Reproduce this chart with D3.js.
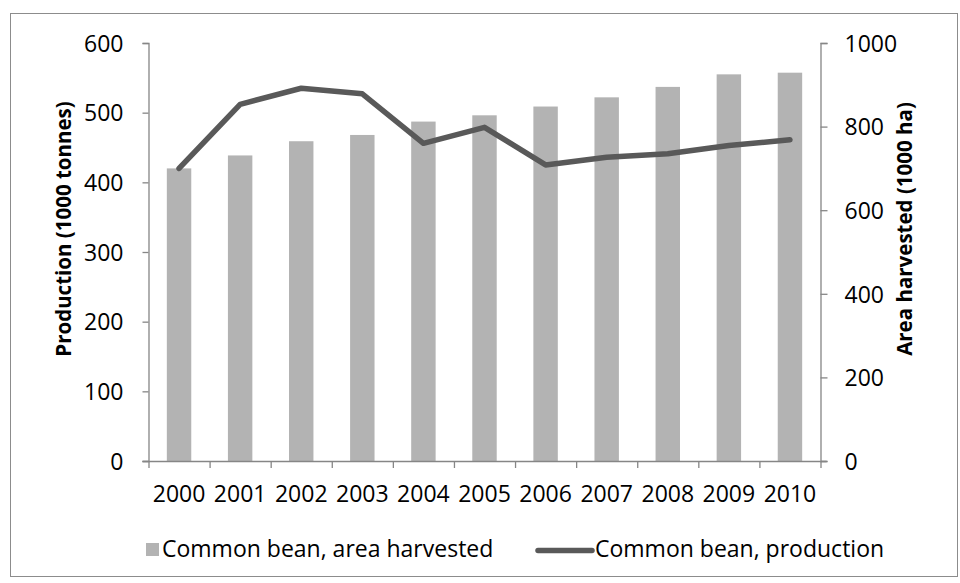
<!DOCTYPE html>
<html><head><meta charset="utf-8">
<script src="https://cdn.jsdelivr.net/npm/d3@7"></script>
<style>
html,body{margin:0;padding:0;background:#fff;}
text{font-family:"Open Sans",sans-serif;fill:#000;}
</style></head>
<body>
<svg id="chart" width="960" height="583"></svg>
<script>
const years = ["2000","2001","2002","2003","2004","2005","2006","2007","2008","2009","2010"];
const areaHarvested = [700, 731, 765, 780, 812, 827, 848, 870, 895, 925, 929];
const production = [420, 512, 535, 527, 456, 479, 425, 436, 441, 453, 461];
const leftTicks = [0, 100, 200, 300, 400, 500, 600];
const rightTicks = [0, 200, 400, 600, 800, 1000];
const seriesNames = ["Common bean, area harvested", "Common bean, production"];
const axisTitles = ["Production (1000 tonnes)", "Area harvested (1000 ha)"];

const svg = d3.select("#chart");
const L = 148.5, R = 820.5, T = 43, B = 461;
const axisColor = "#868686", barColor = "#b3b3b3", lineColor = "#595959";
const fs = 23, tfs = 20.5;

svg.append("rect").attr("x",10.5).attr("y",13.5).attr("width",947).attr("height",563)
  .attr("fill","none").attr("stroke","#8c8c8c").attr("stroke-width",1);

const x = d3.scaleBand().domain(years).range([L, R]).paddingInner(0.6).paddingOuter(0.3);
const xEdges = d3.scaleLinear().domain([0, years.length]).range([L, R]);
const yL = d3.scaleLinear().domain([0, 600]).range([B, T]);
const yR = d3.scaleLinear().domain([0, 1000]).range([B, T]);

// bars
svg.append("g").selectAll("rect").data(years).join("rect")
  .attr("x", d => x(d)).attr("width", x.bandwidth())
  .attr("y", (d,i) => yR(areaHarvested[i])).attr("height", (d,i) => B - yR(areaHarvested[i]))
  .attr("fill", barColor);

// line
const line = d3.line().x((d,i) => x(years[i]) + x.bandwidth()/2).y(d => yL(d));
svg.append("path").datum(production).attr("d", line)
  .attr("fill","none").attr("stroke", lineColor).attr("stroke-width", 5.5)
  .attr("stroke-linejoin","round").attr("stroke-linecap","round");

function styleAxis(g){
  g.selectAll(".domain").attr("stroke", axisColor).attr("stroke-width",1.3);
  g.selectAll(".tick line").attr("stroke", axisColor).attr("stroke-width",1.3);
  g.selectAll(".tick text").attr("font-family","Open Sans").attr("font-size", fs).attr("fill","#000");
}

// left axis
const gl = svg.append("g").attr("transform",`translate(${L},0)`)
  .call(d3.axisLeft(yL).tickValues(leftTicks).tickFormat(d3.format("d")).tickSize(6).tickSizeOuter(6).tickPadding(19));
styleAxis(gl);
gl.selectAll(".tick text").attr("dy","0.36em");

// right axis
const gr = svg.append("g").attr("transform",`translate(${R},0)`)
  .call(d3.axisRight(yR).tickValues(rightTicks).tickFormat(d3.format("d")).tickSize(7).tickSizeOuter(7).tickPadding(17));
styleAxis(gr);
gr.selectAll(".tick text").attr("dy","0.36em");

// x axis ticks at edges
const gx = svg.append("g").attr("transform",`translate(0,${B})`)
  .call(d3.axisBottom(xEdges).tickValues(d3.range(years.length+1)).tickSize(7).tickSizeOuter(0).tickFormat(""));
styleAxis(gx);
gx.select(".domain").attr("d", `M${L-6},0.5H${R+6}`);

// x labels
const gxl = svg.append("g").attr("transform",`translate(0,${B})`)
  .call(d3.axisBottom(x).tickSize(0).tickPadding(25));
gxl.select(".domain").remove();
styleAxis(gxl);
gxl.selectAll(".tick text").attr("dy","0.71em");

// axis titles
svg.append("text").attr("transform",`translate(71,229) rotate(-90)`)
  .attr("text-anchor","middle").attr("font-weight","bold").attr("font-size",tfs)
  .text(axisTitles[0]);
svg.append("text").attr("transform",`translate(912,229) rotate(-90)`)
  .attr("text-anchor","middle").attr("font-weight","bold").attr("font-size",tfs)
  .text(axisTitles[1]);

// legend
const lg = svg.append("g");
lg.append("rect").attr("x",146).attr("y",543).attr("width",13).attr("height",13).attr("fill",barColor);
lg.append("text").attr("x",162).attr("y",557).attr("font-size",fs).text(seriesNames[0]);
lg.append("line").attr("x1",538).attr("x2",592).attr("y1",550.5).attr("y2",550.5)
  .attr("stroke",lineColor).attr("stroke-width",5.5).attr("stroke-linecap","round");
lg.append("text").attr("x",595).attr("y",557).attr("font-size",fs).text(seriesNames[1]);
</script>
</body></html>
